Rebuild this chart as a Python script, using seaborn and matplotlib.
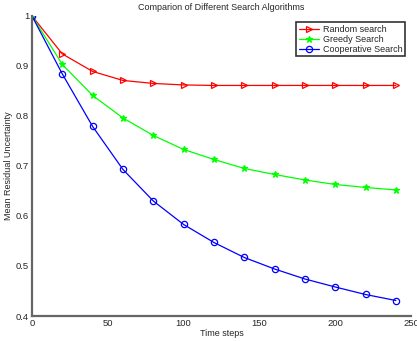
import matplotlib
matplotlib.use("Agg")
import matplotlib.pyplot as plt
import seaborn as sns
import pandas as pd

steps = [0, 20, 40, 60, 80, 100, 120, 140, 160, 180, 200, 220, 240]
random_search = [1.0, 0.924, 0.889, 0.871, 0.865, 0.862, 0.861, 0.861, 0.861, 0.861, 0.861, 0.861, 0.861]
greedy_search = [1.0, 0.903, 0.841, 0.796, 0.761, 0.733, 0.713, 0.695, 0.683, 0.672, 0.663, 0.657, 0.652]
coop_search = [1.0, 0.884, 0.779, 0.693, 0.630, 0.583, 0.547, 0.517, 0.494, 0.474, 0.458, 0.443, 0.431]
labels = ["Random search", "Greedy Search", "Cooperative Search"]
xticks = [0, 50, 100, 150, 200, 250]
yticks = [0.4, 0.5, 0.6, 0.7, 0.8, 0.9, 1.0]
ytick_labels = ["0.4", "0.5", "0.6", "0.7", "0.8", "0.9", "1"]

sns.set_style("white")
plt.rcParams['font.family'] = ['Liberation Sans', 'DejaVu Sans']

fig = plt.figure(figsize=(4.17, 3.41), dpi=100)
ax = fig.add_axes([0.0767, 0.0733, 0.909, 0.88])

styles = [
    dict(color="#ff0000", marker=">", markerfacecolor="none", markeredgecolor="#ff0000", markersize=4.5, markeredgewidth=0.9),
    dict(color="#00ff00", marker="*", markerfacecolor="#00ff00", markeredgecolor="#00ff00", markersize=4.5, markeredgewidth=0.9),
    dict(color="#0000ff", marker="o", markerfacecolor="none", markeredgecolor="#0000ff", markersize=4.5, markeredgewidth=0.9),
]
for vals, lab, st in zip([random_search, greedy_search, coop_search], labels, styles):
    df = pd.DataFrame({"t": steps, "v": vals})
    sns.lineplot(data=df, x="t", y="v", ax=ax, label=lab, linewidth=0.9, **st)

ax.set_xlim(0, 250)
ax.set_ylim(0.4, 1.0)
ax.set_xticks(xticks)
ax.set_yticks(yticks)
ax.set_yticklabels(ytick_labels)
ax.tick_params(direction="in", length=3, labelsize=6.8, color="#555555", width=1, pad=2)
for s in ["top", "right"]:
    ax.spines[s].set_visible(False)
for s in ["left", "bottom"]:
    ax.spines[s].set_color("#666666")
    ax.spines[s].set_linewidth(1.6)
ax.set_xlabel("Time steps", fontsize=6.5, labelpad=1)
ax.set_ylabel("Mean Residual Uncertainty", fontsize=6.5, labelpad=2)
ax.set_title("Comparion of Different Search Algorithms", fontsize=6.5, pad=4)
leg = ax.legend(loc="upper right", bbox_to_anchor=(0.99, 0.985), fontsize=6.5, frameon=True,
                fancybox=False, edgecolor="black", borderpad=0.3, labelspacing=0.1,
                handlelength=2.2, handletextpad=0.5, borderaxespad=0.2)
leg.get_frame().set_linewidth(1.2)
fig.savefig("out.png", dpi=100)
